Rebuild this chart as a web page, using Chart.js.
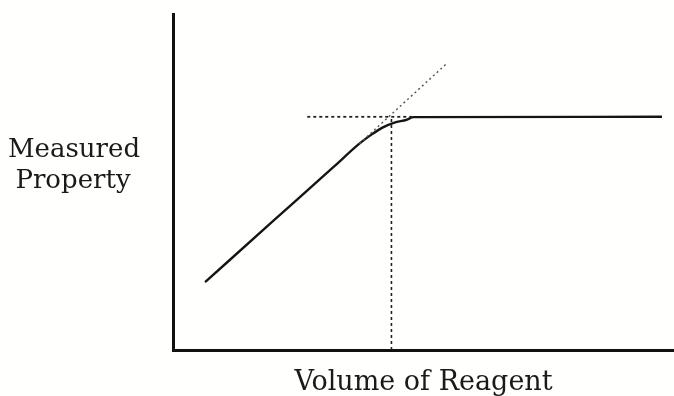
<!DOCTYPE html>
<html>
<head>
<meta charset="utf-8">
<script src="https://cdn.jsdelivr.net/npm/chart.js@4.4.1/dist/chart.umd.min.js"></script>
<style>
  html, body { margin: 0; padding: 0; background: #fffffd; }
  #wrap { width: 674px; height: 396px; }
</style>
</head>
<body>
<div id="wrap"><canvas id="myChart"></canvas></div>
<script>
// titration-style curve, values in axis units (0..100 on both axes)
var curveX = [6.4, 20.0, 32.0, 37.2, 39.6, 41.8, 44.2, 46.6, 48.0, 97.6];
var curveY = [20.2, 38.4, 54.4, 61.4, 64.1, 66.2, 67.7, 68.5, 69.3, 69.4];

// extrapolated straight part (dotted)
var slopeX = [37.2, 54.6];
var slopeY = [61.4, 85.2];

// plateau level, dashed back to the left
var plateauX = [26.8, 48.0];
var plateauY = [69.4, 69.4];

// end point, dropped to the x axis
var endX = [43.6, 43.6];
var endY = [0, 69.4];

var xTitle = "Volume of Reagent";
var yTitle = ["Measured", "Property"];

function pts(xs, ys) {
  return xs.map(function (x, i) { return { x: x, y: ys[i] }; });
}

var labelFont = "26px 'DejaVu Serif'";

var yLabelPlugin = {
  id: "yLabel",
  afterDraw: function (chart) {
    var ctx = chart.ctx;
    ctx.save();
    ctx.font = labelFont;
    ctx.fillStyle = "#1a1a1a";
    ctx.textAlign = "center";
    ctx.textBaseline = "alphabetic";
    ctx.fillText(yTitle[0], 74, 157);
    ctx.fillText(yTitle[1], 73, 188);
    ctx.restore();
  }
};

var ctx = document.getElementById("myChart");
var myChart = new Chart(ctx, {
  type: "scatter",
  data: {
    datasets: [
      {
        data: pts(slopeX, slopeY),
        showLine: true,
        borderColor: "#555",
        borderWidth: 1.4,
        borderDash: [2, 3],
        pointRadius: 0
      },
      {
        data: pts(plateauX, plateauY),
        showLine: true,
        borderColor: "#222",
        borderWidth: 1.8,
        borderDash: [3, 3],
        pointRadius: 0
      },
      {
        data: pts(endX, endY),
        showLine: true,
        borderColor: "#222",
        borderWidth: 1.6,
        borderDash: [3, 3],
        pointRadius: 0
      },
      {
        data: pts(curveX, curveY),
        showLine: true,
        borderColor: "#151515",
        borderWidth: 2.4,
        cubicInterpolationMode: "monotone",
        pointRadius: 0
      }
    ]
  },
  options: {
    responsive: true,
    maintainAspectRatio: false,
    animation: false,
    layout: { padding: { left: 173, top: 14, right: 0, bottom: 0 } },
    plugins: {
      legend: { display: false },
      tooltip: { enabled: false }
    },
    scales: {
      x: {
        type: "linear",
        min: 0,
        max: 100,
        grid: { display: false, drawTicks: false },
        ticks: { display: false },
        border: { display: true, color: "#111", width: 3 },
        title: {
          display: true,
          text: xTitle,
          color: "#1a1a1a",
          font: { family: "'DejaVu Serif'", size: 27, lineHeight: 1 },
          padding: { top: 19, bottom: 0 }
        }
      },
      y: {
        type: "linear",
        min: 0,
        max: 100,
        grid: { display: false, drawTicks: false },
        ticks: { display: false },
        border: { display: true, color: "#111", width: 3 }
      }
    }
  },
  plugins: [yLabelPlugin]
});
</script>
</body>
</html>
